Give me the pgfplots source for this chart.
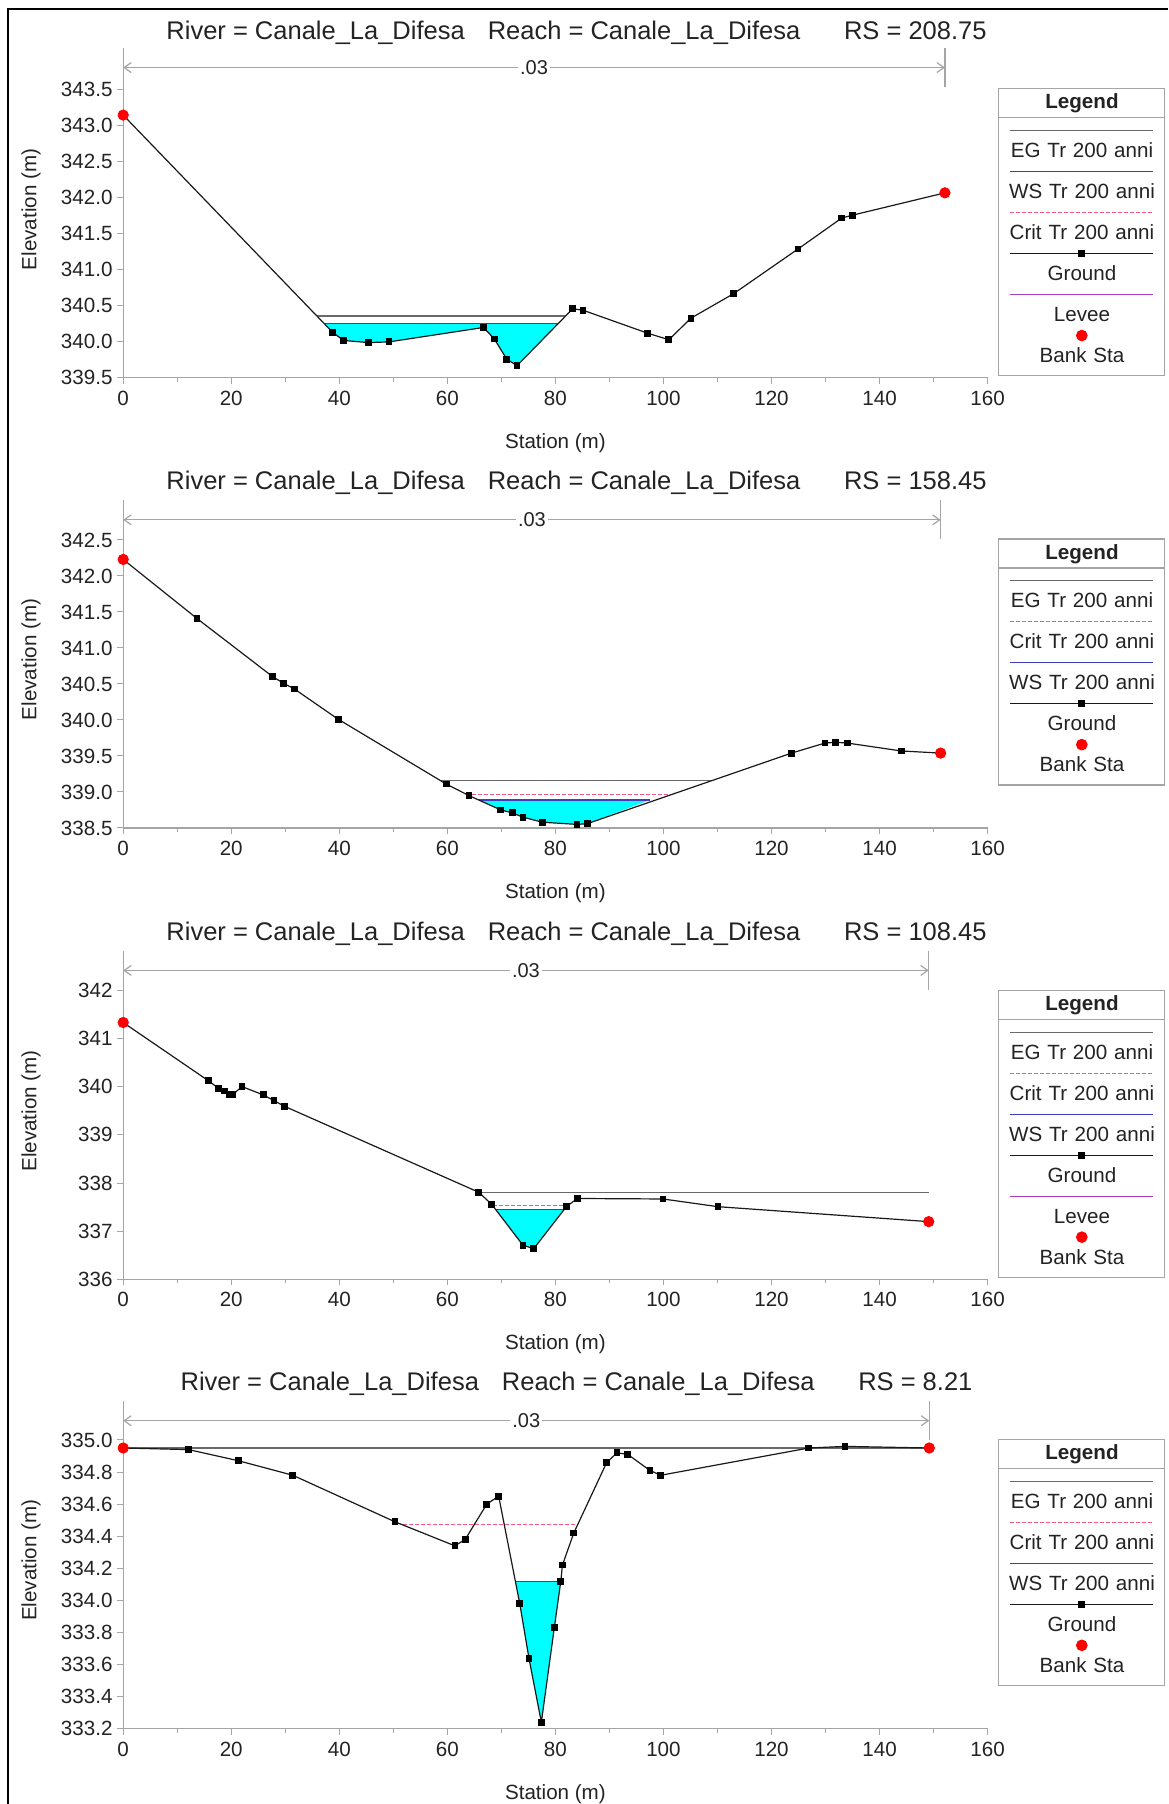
\documentclass[border=0pt]{standalone}
\usepackage{pgfplots}
\pgfplotsset{compat=1.18}
\usepackage{fontspec}
\setmainfont{Liberation Sans}
\usetikzlibrary{arrows.meta}

\definecolor{wsblue}{RGB}{60,60,200}
\definecolor{egcol}{RGB}{105,105,105}
\definecolor{critcol}{RGB}{240,90,130}
\definecolor{leveecol}{RGB}{170,60,190}
\definecolor{watercyan}{RGB}{0,255,255}
\definecolor{axgray}{RGB}{165,165,165}
\definecolor{txt}{RGB}{35,35,35}

\newcommand{\ttl}[1]{River = Canale\_La\_Difesa\hspace{11.5pt}Reach = Canale\_La\_Difesa\hspace{21.9pt}RS = #1}

\tikzset{
  nline/.style={axgray, line width=0.6pt, {Straight Barb[length=3.5pt,width=5pt]}-{Straight Barb[length=3.5pt,width=5pt]}},
  nlabel/.style={midway, fill=white, inner sep=1pt, text=txt, font=\fontsize{10}{12}\selectfont},
}

\pgfplotsset{
  hec/.style={
    scale only axis, width=432.2pt, height=162pt, anchor=south west,
    xmin=0, xmax=160, xtick={0,20,...,160}, minor x tick num=1,
    axis x line*=bottom, axis y line*=left,
    axis line style={axgray, line width=0.6pt},
    tick style={axgray, line width=0.5pt},
    tick align=outside, major tick length=3pt, minor tick length=2pt,
    clip=false,
    /pgf/number format/assume math mode=true,
    /pgf/number format/1000 sep={},
    tick label style={font=\fontsize{10.3}{12}\selectfont, text=txt},
    yticklabel style={xshift=1.2pt},
    xlabel={Station (m)}, ylabel={Elevation (m)},
    label style={font=\fontsize{10.3}{12}\selectfont, text=txt},
    xlabel style={at={(axis description cs:0.5,-0.201)}, anchor=center},
    ylabel style={at={(axis description cs:-0.1067,0.52)}, anchor=center},
    title style={at={(axis description cs:0.5245,1.075)}, anchor=center, yshift=-7.5pt, font=\fontsize{12.75}{15}\selectfont, text=txt},
    legend style={at={(axis description cs:1.0117,0.894)}, anchor=north west, draw=axgray, fill=white, line width=0.6pt,
      inner sep=0pt, column sep=0pt, row sep=0pt,
      nodes={text width=82.45pt, align=center, inner sep=0pt, minimum height=20.5pt, text height=7.4pt, text depth=0pt, font=\fontsize{10.3}{12}\selectfont, text=txt}},
    legend cell align=center,
  },
  legtitle/.style={legend image code/.code={\draw[overlay,axgray,line width=0.6pt] (0pt,-4.25pt) -- (82.45pt,-4.25pt); \path (0pt,0pt);}},
  legline/.style={legend image code/.code={\draw[overlay,##1] (5.7pt,9.9pt) -- (77.2pt,9.9pt); \path (0pt,0pt);}},
  legground/.style={legend image code/.code={\draw[overlay,mark repeat=2,mark phase=2,##1] plot coordinates {(5.7pt,9.9pt) (41.45pt,9.9pt) (77.2pt,9.9pt)}; \path (0pt,0pt);}},
  legbank/.style={legend image code/.code={\draw[overlay,##1] plot coordinates {(41.45pt,9.9pt)}; \path (0pt,0pt);}},
  egstyle/.style={egcol, line width=0.6pt},
  wsstyle/.style={wsblue, line width=0.6pt},
  critstyle/.style={critcol, line width=0.5pt, dash pattern=on 2pt off 1pt},
  groundstyle/.style={black!90, line width=0.6pt, mark=square*, mark size=1.4pt, mark options={solid, fill=black, draw=black}},
  bankstyle/.style={only marks, red, mark=*, mark size=2.6pt, mark options={fill=red, draw=red}},
}

\begin{document}
\begin{tikzpicture}
\useasboundingbox (0,0) rectangle (584pt,902pt);
\fill[white] (0,0) rectangle (584pt,902pt);
\draw[black, line width=1.2pt] (3.85pt,0pt) -- (3.85pt,897.4pt) -- (584pt,897.4pt);

% ---------------- Panel 1 ----------------
\begin{axis}[hec, at={(61.6pt,713.05pt)},
  ymin=339.5, ymax=344.0,
  ytick={339.5,340,340.5,341,341.5,342,342.5,343,343.5},
  yticklabel style={/pgf/number format/.cd, fixed, fixed zerofill, precision=1},
  title={\ttl{208.75}}]
\addplot[forget plot, fill=watercyan, draw=none] coordinates {(37.26,340.25) (38.8,340.13) (40.8,340.02) (45.4,339.99) (49.2,340.0) (66.7,340.20) (68.7,340.04) (71.0,339.76) (72.9,339.67) (80.46,340.25)} -- cycle;
\addplot[forget plot, egstyle] coordinates {(35.85,340.36) (81.9,340.36)};
\addplot[forget plot, wsstyle] coordinates {(37.26,340.25) (80.46,340.25)};
\addplot[forget plot, groundstyle] coordinates {(0,343.15) (38.8,340.13) (40.8,340.02) (45.4,339.99) (49.2,340.0) (66.7,340.20) (68.7,340.04) (71.0,339.76) (72.9,339.67) (83.2,340.46) (85.1,340.44) (97.1,340.12) (101.0,340.03) (105.1,340.33) (113.0,340.67) (124.9,341.29) (133.0,341.72) (135.0,341.76) (152.1,342.07)};
\addplot[forget plot, bankstyle] coordinates {(0,343.15) (152.1,342.07)};
\draw[nline] (axis cs:0,343.81) -- (axis cs:152.1,343.81) node[nlabel] {.03};
\draw[axgray, line width=0.6pt] (axis cs:152.1,343.81) ++(0pt,-9.75pt) -- ++(0pt,19.5pt);
\draw[axgray, line width=0.6pt] (axis cs:0,343.81) -- ++(0pt,9.75pt);
\addlegendimage{legtitle}\addlegendentry{\raisebox{3.9pt}{\textbf{Legend}}}
\addlegendimage{legline, egstyle}\addlegendentry{EG Tr 200 anni}
\addlegendimage{legline, wsstyle}\addlegendentry{WS Tr 200 anni}
\addlegendimage{legline, critstyle}\addlegendentry{Crit Tr 200 anni}
\addlegendimage{legground, groundstyle}\addlegendentry{Ground}
\addlegendimage{legline, leveecol, line width=0.6pt}\addlegendentry{Levee}
\addlegendimage{legbank, bankstyle}\addlegendentry{Bank Sta}
\end{axis}

% ---------------- Panel 2 ----------------
\begin{axis}[hec, at={(61.6pt,488.0pt)},
  ymin=338.5, ymax=343.0,
  ytick={338.5,339,339.5,340,340.5,341,341.5,342,342.5},
  yticklabel style={/pgf/number format/.cd, fixed, fixed zerofill, precision=1},
  title={\ttl{158.45}}]
\addplot[forget plot, fill=watercyan, draw=none] coordinates {(65.8,338.89) (69.9,338.75) (72.0,338.71) (74.0,338.65) (77.6,338.58) (84.0,338.55) (85.9,338.56) (97.5,338.89)} -- cycle;
\addplot[forget plot, egstyle] coordinates {(58.7,339.16) (109.0,339.16)};
\addplot[forget plot, critstyle] coordinates {(63.5,338.97) (101.7,338.97)};
\addplot[forget plot, wsstyle] coordinates {(65.8,338.89) (97.5,338.89)};
\addplot[forget plot, groundstyle] coordinates {(0,342.23) (13.65,341.41) (27.7,340.60) (29.7,340.51) (31.7,340.43) (39.8,340.01) (59.8,339.11) (64.0,338.95) (69.9,338.75) (72.0,338.71) (74.0,338.65) (77.6,338.58) (84.0,338.55) (85.9,338.56) (123.7,339.54) (129.9,339.68) (131.9,339.69) (134.0,339.68) (144.0,339.57) (151.3,339.54)};
\addplot[forget plot, bankstyle] coordinates {(0,342.23) (151.3,339.54)};
\draw[nline] (axis cs:0,342.78) -- (axis cs:151.3,342.78) node[nlabel] {.03};
\draw[axgray, line width=0.6pt] (axis cs:151.3,342.78) ++(0pt,-9.75pt) -- ++(0pt,19.5pt);
\draw[axgray, line width=0.6pt] (axis cs:0,342.78) -- ++(0pt,9.75pt);
\addlegendimage{legtitle}\addlegendentry{\raisebox{3.9pt}{\textbf{Legend}}}
\addlegendimage{legline, egstyle}\addlegendentry{EG Tr 200 anni}
\addlegendimage{legline, critstyle}\addlegendentry{Crit Tr 200 anni}
\addlegendimage{legline, wsstyle}\addlegendentry{WS Tr 200 anni}
\addlegendimage{legground, groundstyle}\addlegendentry{Ground}
\addlegendimage{legbank, bankstyle}\addlegendentry{Bank Sta}
\end{axis}

% ---------------- Panel 3 ----------------
\begin{axis}[hec, at={(61.6pt,262.25pt)},
  ymin=336, ymax=342.72,
  ytick={336,337,338,339,340,341,342},
  yticklabel style={/pgf/number format/.cd, fixed, precision=0},
  title={\ttl{108.45}}]
\addplot[forget plot, fill=watercyan, draw=none] coordinates {(68.95,337.45) (74.0,336.71) (76.0,336.64) (81.6,337.45)} -- cycle;
\addplot[forget plot, egstyle] coordinates {(65.8,337.80) (149.1,337.80)};
\addplot[forget plot, critstyle] coordinates {(68.4,337.53) (82.2,337.53)};
\addplot[forget plot, wsstyle] coordinates {(68.95,337.45) (81.6,337.45)};
\addplot[forget plot, groundstyle] coordinates {(0,341.33) (15.8,340.12) (17.7,339.96) (18.7,339.91) (19.6,339.84) (20.3,339.84) (22.0,340.0) (25.9,339.83) (27.9,339.71) (29.9,339.59) (65.8,337.81) (68.2,337.56) (74.0,336.71) (76.0,336.64) (82.1,337.52) (84.1,337.68) (99.9,337.67) (110.1,337.51) (149.1,337.20)};
\addplot[forget plot, bankstyle] coordinates {(0,341.33) (149.1,337.20)};
\draw[nline] (axis cs:0,342.41) -- (axis cs:149.1,342.41) node[nlabel] {.03};
\draw[axgray, line width=0.6pt] (axis cs:149.1,342.41) ++(0pt,-9.75pt) -- ++(0pt,19.5pt);
\draw[axgray, line width=0.6pt] (axis cs:0,342.41) -- ++(0pt,9.75pt);
\addlegendimage{legtitle}\addlegendentry{\raisebox{3.9pt}{\textbf{Legend}}}
\addlegendimage{legline, egstyle}\addlegendentry{EG Tr 200 anni}
\addlegendimage{legline, critstyle}\addlegendentry{Crit Tr 200 anni}
\addlegendimage{legline, wsstyle}\addlegendentry{WS Tr 200 anni}
\addlegendimage{legground, groundstyle}\addlegendentry{Ground}
\addlegendimage{legline, leveecol, line width=0.6pt}\addlegendentry{Levee}
\addlegendimage{legbank, bankstyle}\addlegendentry{Bank Sta}
\end{axis}

% ---------------- Panel 4 ----------------
\begin{axis}[hec, at={(61.6pt,37.65pt)},
  ymin=333.2, ymax=335.22,
  ytick={333.2,333.4,333.6,333.8,334.0,334.2,334.4,334.6,334.8,335.0},
  yticklabel style={/pgf/number format/.cd, fixed, fixed zerofill, precision=1},
  title={\ttl{8.21}}]
\addplot[forget plot, fill=watercyan, draw=none] coordinates {(72.6,334.12) (73.4,333.98) (75.1,333.64) (77.4,333.24) (79.8,333.83) (81.0,334.12)} -- cycle;
\addplot[forget plot, egstyle] coordinates {(0,334.95) (149.2,334.95)};
\addplot[forget plot, critstyle] coordinates {(51.8,334.47) (84.1,334.47)};
\addplot[forget plot, wsstyle] coordinates {(72.6,334.12) (81.0,334.12)};
\addplot[forget plot, groundstyle] coordinates {(0,334.95) (12.1,334.94) (21.4,334.87) (31.4,334.78) (50.3,334.49) (61.4,334.34) (63.3,334.38) (67.3,334.60) (69.5,334.65) (73.4,333.98) (75.1,333.64) (77.4,333.24) (79.8,333.83) (81.0,334.12) (81.3,334.22) (83.4,334.42) (89.5,334.86) (91.4,334.92) (93.4,334.91) (97.5,334.81) (99.5,334.78) (126.9,334.95) (133.6,334.96) (149.2,334.95)};
\addplot[forget plot, bankstyle] coordinates {(0,334.95) (149.2,334.95)};
\draw[nline] (axis cs:0,335.12) -- (axis cs:149.2,335.12) node[nlabel] {.03};
\draw[axgray, line width=0.6pt] (axis cs:149.2,335.12) ++(0pt,-9.75pt) -- ++(0pt,19.5pt);
\draw[axgray, line width=0.6pt] (axis cs:0,335.12) -- ++(0pt,9.75pt);
\addlegendimage{legtitle}\addlegendentry{\raisebox{3.9pt}{\textbf{Legend}}}
\addlegendimage{legline, egstyle}\addlegendentry{EG Tr 200 anni}
\addlegendimage{legline, critstyle}\addlegendentry{Crit Tr 200 anni}
\addlegendimage{legline, wsstyle}\addlegendentry{WS Tr 200 anni}
\addlegendimage{legground, groundstyle}\addlegendentry{Ground}
\addlegendimage{legbank, bankstyle}\addlegendentry{Bank Sta}
\end{axis}
\end{tikzpicture}
\end{document}
